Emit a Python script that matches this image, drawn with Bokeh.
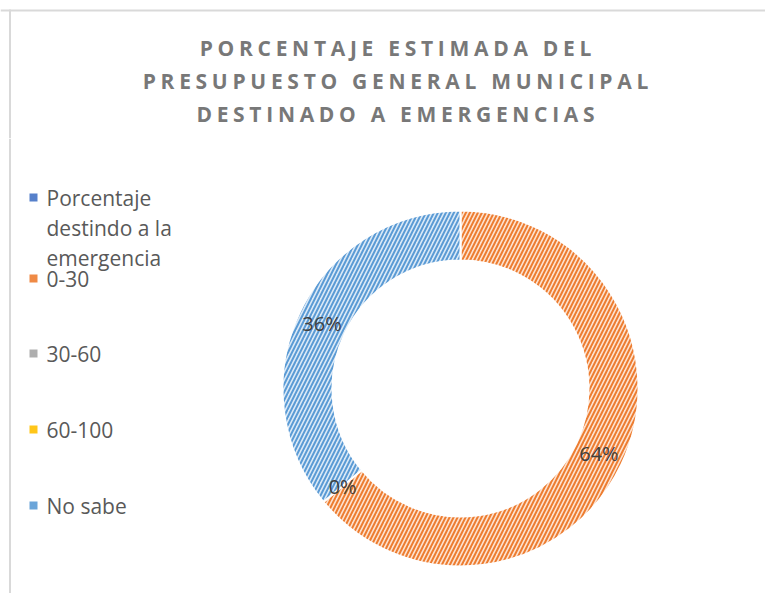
import math
import textwrap
from bokeh.plotting import figure
from bokeh.models import Range1d, Span, InlineStyleSheet, ColumnDataSource
from bokeh.layouts import column
from bokeh.embed import file_html
from bokeh.resources import INLINE
from bokeh.core.properties import value

# ---- data ----
title_lines = ["PORCENTAJE ESTIMADA DEL", "PRESUPUESTO GENERAL MUNICIPAL", "DESTINADO A EMERGENCIAS"]
categories = ["Porcentaje destindo a la emergencia", "0-30", "30-60", "60-100", "No sabe"]
values = [None, 64, 0, 0, 36]
base_colors = ["#4472C4", "#ED7D31", "#A5A5A5", "#FFC000", "#5B9BD5"]
tint_colors = ["#D5DFF2", "#FDE3D2", "#E8E8E8", "#FFEDB8", "#DCEAF7"]

W = 765
TH = 138
MH = 455
FRAME = "#D9D9D9"
LS = 4.7  # title letter spacing (px)

# ---- title figure (letter-spaced) ----
tf = figure(width=W, height=TH, x_range=Range1d(0, W), y_range=Range1d(TH, 0),
            toolbar_location=None, output_backend="svg", min_border=0,
            stylesheets=[InlineStyleSheet(css=f":host {{ letter-spacing: {LS}px; }}")])
tf.axis.visible = False
tf.grid.visible = False
tf.outline_line_color = None
tf.add_layout(Span(location=10, dimension="width", line_color=FRAME, line_width=2))
tf.segment(x0=[9.5], y0=[9], x1=[9.5], y1=[TH], line_color=FRAME, line_width=2)
tsrc = ColumnDataSource(dict(x=[395 - LS * (len(t) - 1) / 2 for t in title_lines],
                             y=[47 + 33 * i for i in range(len(title_lines))],
                             t=title_lines))
tf.text(x="x", y="y", text="t", source=tsrc, text_font=value("Open Sans"), text_font_style="bold",
        text_font_size="21px", text_color="#787878", text_align="center", text_baseline="middle")

# ---- main figure ----
p = figure(width=W, height=MH, x_range=Range1d(0, W), y_range=Range1d(-(TH + MH), -TH),
           toolbar_location=None, output_backend="svg", min_border=0)
p.axis.visible = False
p.grid.visible = False
p.outline_line_color = None
p.add_layout(Span(location=9.5, dimension="height", line_color=FRAME, line_width=2))

cx, cy = 460, -388
r_out, r_in = 178, 128
total = sum(v for v in values if v is not None)

ws = dict(start=[], end=[], fill=[], hatch=[])
lab = dict(x=[], y=[], t=[])
cum = 0.0
seen = set()
for v, bc, tc in zip(values, base_colors, tint_colors):
    if v is None:
        continue
    frac = v / total
    a0 = cum * 2 * math.pi
    a1 = (cum + frac) * 2 * math.pi
    if v > 0:
        ws["start"].append(math.pi / 2 - a0)
        ws["end"].append(math.pi / 2 - a1)
        ws["fill"].append(tc)
        ws["hatch"].append(bc)
    mid = (a0 + a1) / 2
    rm = (r_out + r_in) / 2
    lx = cx + rm * math.sin(mid)
    ly = cy + rm * math.cos(mid)
    key = (round(lx), round(ly))
    if key not in seen:
        seen.add(key)
        lab["x"].append(lx)
        lab["y"].append(ly)
        lab["t"].append(f"{round(frac * 100)}%")
    cum += frac

wsrc = ColumnDataSource(ws)
p.annular_wedge(x=cx, y=cy, inner_radius=r_in, outer_radius=r_out,
                inner_radius_units="screen", outer_radius_units="screen",
                start_angle="start", end_angle="end", direction="clock", source=wsrc,
                fill_color="fill", hatch_color="hatch", hatch_pattern="/", hatch_scale=8,
                hatch_weight=2, line_color="white", line_width=2)

p.text(x="x", y="y", text="t", source=ColumnDataSource(lab), text_font=value("Open Sans"),
       text_font_size="20px", text_color="#404040", text_align="center", text_baseline="middle")

# legend
leg_y = [197, 278, 353, 429, 505]
mk = dict(x=[], y=[], c=[])
lt = dict(x=[], y=[], t=[])
for cat, col, y in zip(categories, base_colors, leg_y):
    mk["x"].append(33)
    mk["y"].append(-y)
    mk["c"].append(col)
    for i, line in enumerate(textwrap.wrap(cat, 13)):
        lt["x"].append(46)
        lt["y"].append(-(y + 30 * i))
        lt["t"].append(line)
p.scatter(x="x", y="y", source=ColumnDataSource(mk), marker="square", size=8, fill_color="c",
          line_color=None, fill_alpha=0.9)
p.text(x="x", y="y", text="t", source=ColumnDataSource(lt), text_font=value("Open Sans"),
       text_font_size="21px", text_color="#595959", text_align="left", text_baseline="middle")

layout = column(tf, p, spacing=0)
open("out.html", "w").write(file_html(layout, INLINE))
